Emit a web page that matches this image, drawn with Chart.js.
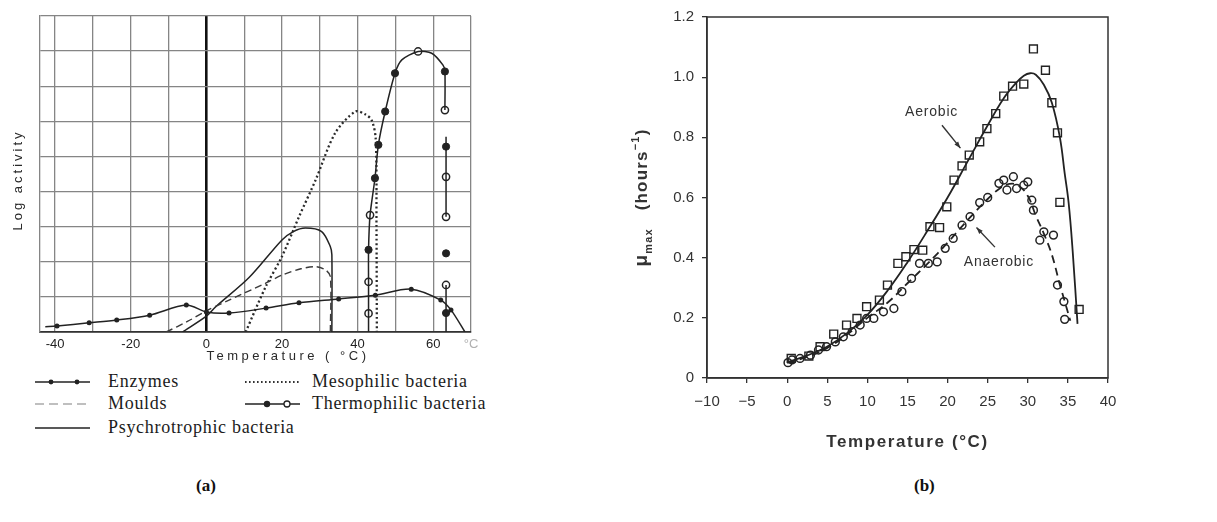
<!DOCTYPE html>
<html>
<head>
<meta charset="utf-8">
<script src="https://cdn.jsdelivr.net/npm/chart.js@4.4.1/dist/chart.umd.min.js"></script>
<style>
  body { margin: 0; background: #fff; }
  #wrap { position: relative; width: 1217px; height: 522px; overflow: hidden; }
  canvas { position: absolute; top: 0; }
  .legtxt { position: absolute; font: 18px "Liberation Serif", serif; letter-spacing: 0.7px; color: #1c1c1c; line-height: 20px; white-space: nowrap; }
  .legsvg { position: absolute; }
  .tag { position: absolute; font: bold 17px "Liberation Serif", serif; color: #111; }
</style>
</head>
<body>
<div id="wrap">
  <canvas id="cA" width="600" height="370" style="left:0"></canvas>
  <canvas id="cB" width="617" height="470" style="left:600px"></canvas>
  <div id="legA"></div>
  <div class="tag" style="left:196px;top:476px">(a)</div>
  <div class="tag" style="left:914px;top:476px">(b)</div>
</div>
<script>
// ---- panel (a): log activity vs temperature ----
const xTicksA = [-40, -30, -20, -10, 0, 10, 20, 30, 40, 50, 60, 70];
const yTicksA = [0, 1, 2, 3, 4, 5, 6, 7, 8, 9];

const enzX = [-42.6, -39.5, -31, -23.7, -15, -5.3, 0, 6, 15.8, 24.5, 35, 44.7, 54.2, 62, 64.7, 68.4];
const enzY = [0.15, 0.17, 0.26, 0.34, 0.48, 0.77, 0.57, 0.54, 0.68, 0.83, 0.94, 1.05, 1.22, 0.91, 0.63, 0];

const mouldX = [-10.6, -5, 0, 6, 15.7, 20, 25, 28.9, 31.5, 32.8, 32.8];
const mouldY = [0, 0.3, 0.6, 0.91, 1.39, 1.62, 1.8, 1.86, 1.77, 1.58, 0];

const psyX = [-6.3, 0, 2.5, 11.3, 20, 23, 26.2, 30.5, 32.8, 33.2, 33.2];
const psyY = [0, 0.45, 0.72, 1.55, 2.62, 2.86, 2.96, 2.86, 2.43, 2.2, 0];

const mesoX = [10.4, 15.7, 20, 24.5, 28.9, 34.1, 39.4, 42, 43.7, 44.8, 45, 45.1];
const mesoY = [0, 1.29, 2.15, 3.28, 4.33, 5.67, 6.28, 6.2, 6.04, 5.5, 3, 0];

const thermoX = [42.9, 42.9, 42.9, 42.9, 43.3, 44.6, 45.5, 47.3, 49.9, 51.7, 56, 59.6, 62.6, 63.1, 63.1, 63.2, 63.4, 63.4, 63.4, 63.4, 63.4, 63.4, 63.4, 63.4, 63.4, 63.4];
const thermoY = [0, 0.53, 1.43, 2.34, 3.33, 4.38, 5.33, 6.28, 7.37, 7.75, 7.99, 7.94, 7.6, 7.42, 6.32, null, 5.56, 5.28, 4.42, 3.28, null, 2.24, null, 1.34, 0.54, 0];
const thermoFullX = [42.9, 44.6, 45.5, 47.3, 49.9, 63.1, 63.4, 63.4, 63.4];
const thermoFullY = [2.34, 4.38, 5.33, 6.28, 7.37, 7.42, 5.28, 2.24, 0.54];
const thermoOpenX = [42.9, 42.9, 43.3, 56, 63.1, 63.4, 63.4, 63.4];
const thermoOpenY = [0.53, 1.43, 3.33, 7.99, 6.32, 4.42, 3.28, 1.34];

// ---- panel (b): mu max vs temperature ----
const xTicksB = [-10, -5, 0, 5, 10, 15, 20, 25, 30, 35, 40];
const yTicksB = [0, 0.2, 0.4, 0.6, 0.8, 1.0, 1.2];

const aeroX = [0.5, 2.7, 4.1, 5.8, 7.4, 8.7, 9.9, 11.5, 12.5, 13.8, 14.8, 15.8, 16.9, 17.8, 19.0, 19.9, 20.8, 21.8, 22.7, 24.0, 24.9, 26.0, 27.0, 28.1, 29.5, 30.7, 32.2, 33.0, 33.7, 34.0, 36.4];
const aeroY = [0.065, 0.073, 0.104, 0.146, 0.176, 0.198, 0.237, 0.259, 0.309, 0.381, 0.403, 0.427, 0.425, 0.503, 0.50, 0.569, 0.658, 0.705, 0.741, 0.785, 0.829, 0.879, 0.937, 0.97, 0.977, 1.094, 1.023, 0.915, 0.815, 0.584, 0.228];

const anaeroX = [0.1, 0.6, 1.6, 2.9, 3.9, 4.9, 6.0, 7.0, 8.1, 9.1, 9.9, 10.8, 12.0, 13.3, 14.3, 15.5, 16.5, 17.6, 18.7, 19.7, 20.7, 21.8, 22.8, 24.0, 25.0, 26.4, 27.0, 27.4, 28.2, 28.6, 29.5, 30.0, 30.5, 30.7, 31.5, 32.0, 33.2, 33.7, 34.5, 34.6];
const anaeroY = [0.051, 0.06, 0.065, 0.076, 0.093, 0.104, 0.12, 0.137, 0.154, 0.176, 0.198, 0.198, 0.22, 0.231, 0.287, 0.331, 0.381, 0.381, 0.386, 0.431, 0.464, 0.508, 0.536, 0.583, 0.60, 0.647, 0.658, 0.625, 0.669, 0.63, 0.641, 0.652, 0.591, 0.558, 0.458, 0.486, 0.475, 0.309, 0.254, 0.195];

const aeroFitX = [0, 2.5, 5, 7.5, 10, 12.5, 15, 17.5, 20, 22.5, 25, 27, 28.5, 29.5, 30.3, 31, 32, 33, 34, 34.6, 35.1, 35.6, 36.2];
const aeroFitY = [0.052, 0.075, 0.105, 0.15, 0.21, 0.29, 0.385, 0.49, 0.6, 0.72, 0.84, 0.93, 0.98, 1.005, 1.013, 1.008, 0.975, 0.915, 0.8, 0.68, 0.58, 0.42, 0.18];

const anaeroFitX = [0, 2.5, 5, 7.5, 10, 12.5, 15, 17.5, 20, 22.5, 25, 26.5, 27.7, 28.8, 30, 31, 32, 33, 34, 34.6, 35.3];
const anaeroFitY = [0.05, 0.07, 0.1, 0.145, 0.2, 0.25, 0.315, 0.38, 0.45, 0.525, 0.595, 0.63, 0.645, 0.64, 0.605, 0.54, 0.48, 0.41, 0.31, 0.255, 0.19];

const pts = (xs, ys) => xs.map((x, i) => ({ x, y: ys[i] }));
const ink = '#222';
const gridGray = '#858585';

// free texts of panel (a), letter spaced like the scan
const textA = {
    id: 'textA',
    afterDraw(chart) {
        const { ctx, chartArea: a } = chart;
        ctx.save();
        ctx.fillStyle = '#2a2a2a';
        ctx.textAlign = 'center';
        ctx.textBaseline = 'middle';
        ctx.font = '13px "Liberation Sans", sans-serif';
        ctx.letterSpacing = '3.5px';
        ctx.fillText('Temperature ( °C)', 288, 356);
        ctx.translate(18, (a.top + a.bottom) / 2 + 6);
        ctx.rotate(-Math.PI / 2);
        ctx.letterSpacing = '3px';
        ctx.fillText('Log activity', 0, 0);
        ctx.restore();
    }
};

new Chart(document.getElementById('cA'), {
    type: 'line',
    data: {
        datasets: [
            { data: pts(enzX, enzY), borderColor: ink, borderWidth: 1.5, tension: 0.3,
              pointRadius: c => (c.dataIndex === 0 || c.dataIndex === enzX.length - 1) ? 0 : 2.5,
              pointBackgroundColor: ink, pointBorderWidth: 0 },
            { data: pts(mouldX, mouldY), borderColor: '#3a3a3a', borderWidth: 1.4, borderDash: [7, 4], tension: 0.3, pointRadius: 0 },
            { data: pts(psyX, psyY), borderColor: ink, borderWidth: 1.5, tension: 0.3, pointRadius: 0 },
            { data: pts(mesoX, mesoY), borderColor: '#2a2a2a', borderWidth: 2.3, borderDash: [2, 2.6], tension: 0.3, pointRadius: 0 },
            { data: pts(thermoX, thermoY), borderColor: ink, borderWidth: 1.5, tension: 0.25, pointRadius: 0, spanGaps: false },
            { data: pts(thermoFullX, thermoFullY), showLine: false, pointRadius: 3.6,
              pointBackgroundColor: ink, pointBorderColor: ink, pointBorderWidth: 1 },
            { data: pts(thermoOpenX, thermoOpenY), showLine: false, pointRadius: 3.6,
              pointBackgroundColor: '#fff', pointBorderColor: ink, pointBorderWidth: 1.5 },
        ]
    },
    options: {
        responsive: false,
        animation: false,
        layout: { padding: { left: 0, top: 16, right: 129, bottom: 0 } },
        plugins: { legend: { display: false }, tooltip: { enabled: false } },
        scales: {
            x: {
                type: 'linear', min: -44, max: 70,
                afterBuildTicks(s) { s.ticks = xTicksA.map(v => ({ value: v })); },
                afterFit(s) { s.height = 38; },
                grid: {
                    drawTicks: false,
                    color: c => (c.tick && c.tick.value === 0) ? '#111' : gridGray,
                    lineWidth: c => (c.tick && c.tick.value === 0) ? 2.6 : 1.3,
                },
                border: { color: '#333', width: 1.7 },
                ticks: {
                    padding: 5, maxRotation: 0, autoSkip: false,
                    font: { family: 'Liberation Sans', size: 13 },
                    color: c => c.tick.value === 70 ? '#b0b0b0' : '#222',
                    callback: v => v === 70 ? '°C' : (v % 20 === 0 ? String(v) : ''),
                },
            },
            y: {
                type: 'linear', min: 0, max: 9,
                afterBuildTicks(s) { s.ticks = yTicksA.map(v => ({ value: v })); },
                afterFit(s) { s.width = 40; },
                grid: { drawTicks: false, color: gridGray, lineWidth: 1.3 },
                border: { color: gridGray, width: 1.3 },
                ticks: { display: false },
            },
        },
    },
    plugins: [textA],
});

// legend of panel (a) as html
const legItems = [
    { label: 'Enzymes',                 x: 35,  tx: 108, y: 382, kind: 'enz' },
    { label: 'Moulds',                  x: 35,  tx: 108, y: 404, kind: 'mould' },
    { label: 'Psychrotrophic bacteria', x: 35,  tx: 108, y: 428, kind: 'psy' },
    { label: 'Mesophilic bacteria',     x: 245, tx: 312, y: 382, kind: 'meso' },
    { label: 'Thermophilic bacteria',   x: 245, tx: 312, y: 404, kind: 'thermo' },
];
const sample = {
    enz:    '<line x1="0" y1="6" x2="55" y2="6" stroke="#222" stroke-width="1.6"/><circle cx="16" cy="6" r="2.4" fill="#222"/><circle cx="42" cy="6" r="2.4" fill="#222"/>',
    mould:  '<line x1="0" y1="6" x2="55" y2="6" stroke="#aaa" stroke-width="1.5" stroke-dasharray="9 5"/>',
    psy:    '<line x1="0" y1="6" x2="55" y2="6" stroke="#222" stroke-width="1.6"/>',
    meso:   '<line x1="0" y1="6" x2="55" y2="6" stroke="#333" stroke-width="2" stroke-dasharray="1.6 2.4"/>',
    thermo: '<line x1="0" y1="6" x2="55" y2="6" stroke="#222" stroke-width="1.6"/><circle cx="22" cy="6" r="3.2" fill="#222"/><circle cx="42" cy="6" r="3" fill="#fff" stroke="#222" stroke-width="1.3"/>',
};
const legA = document.getElementById('legA');
legItems.forEach(it => {
    legA.insertAdjacentHTML('beforeend',
        `<svg class="legsvg" width="56" height="12" style="left:${it.x}px;top:${it.y - 6}px">${sample[it.kind]}</svg>` +
        `<div class="legtxt" style="left:${it.tx}px;top:${it.y - 11}px">${it.label}</div>`);
});

// ---- panel (b) ----
const notesB = [
    { text: 'Aerobic',   at: [18, 0.885],  from: [19.3, 0.84],  to: [21.6, 0.764] },
    { text: 'Anaerobic', at: [26.4, 0.385], from: [25.9, 0.435], to: [23.6, 0.50] },
];

const annotB = {
    id: 'annotB',
    afterDraw(chart) {
        const { ctx, chartArea: a, scales: { x, y } } = chart;
        ctx.save();
        // frame
        ctx.strokeStyle = '#333';
        ctx.lineWidth = 1.5;
        ctx.strokeRect(a.left, a.top, a.right - a.left, a.bottom - a.top);
        // notes with arrows
        ctx.fillStyle = '#333';
        ctx.font = '14px "Liberation Sans", sans-serif';
        ctx.letterSpacing = '0.8px';
        ctx.textAlign = 'center';
        ctx.textBaseline = 'middle';
        notesB.forEach(n => {
            ctx.fillText(n.text, x.getPixelForValue(n.at[0]), y.getPixelForValue(n.at[1]));
            const x0 = x.getPixelForValue(n.from[0]), y0 = y.getPixelForValue(n.from[1]);
            const x1 = x.getPixelForValue(n.to[0]),   y1 = y.getPixelForValue(n.to[1]);
            const ang = Math.atan2(y1 - y0, x1 - x0);
            ctx.lineWidth = 1.4;
            ctx.beginPath(); ctx.moveTo(x0, y0); ctx.lineTo(x1, y1); ctx.stroke();
            ctx.beginPath();
            ctx.moveTo(x1, y1);
            ctx.lineTo(x1 - 7 * Math.cos(ang - 0.35), y1 - 7 * Math.sin(ang - 0.35));
            ctx.lineTo(x1 - 7 * Math.cos(ang + 0.35), y1 - 7 * Math.sin(ang + 0.35));
            ctx.closePath(); ctx.fill();
        });
        // x title, letter spaced
        ctx.font = 'bold 17px "Liberation Sans", sans-serif';
        ctx.letterSpacing = '1.6px';
        ctx.fillText('Temperature (°C)', (a.left + a.right) / 2, 442);
        // y title with sub/superscript
        const parts = [
            { t: 'μ', size: 19, dy: 0 },
            { t: 'max', size: 11, dy: 5 },
            { t: '   (hours', size: 17, dy: 0 },
            { t: '−1', size: 11, dy: -8 },
            { t: ')', size: 17, dy: 0 },
        ];
        ctx.textAlign = 'left';
        ctx.textBaseline = 'alphabetic';
        ctx.letterSpacing = '1.2px';
        const fontOf = p => `bold ${p.size}px "Liberation Sans", "DejaVu Sans", sans-serif`;
        let total = 0;
        parts.forEach(p => { ctx.font = fontOf(p); p.w = ctx.measureText(p.t).width; total += p.w; });
        ctx.translate(47, (a.top + a.bottom) / 2);
        ctx.rotate(-Math.PI / 2);
        let cx = -total / 2;
        parts.forEach(p => { ctx.font = fontOf(p); ctx.fillText(p.t, cx, p.dy); cx += p.w; });
        ctx.restore();
    }
};

new Chart(document.getElementById('cB'), {
    type: 'line',
    data: {
        datasets: [
            { data: pts(aeroFitX, aeroFitY), borderColor: ink, borderWidth: 1.8, tension: 0.4, pointRadius: 0 },
            { data: pts(anaeroFitX, anaeroFitY), borderColor: ink, borderWidth: 1.8, borderDash: [8, 5], tension: 0.4, pointRadius: 0 },
            { data: pts(aeroX, aeroY), showLine: false, pointStyle: 'rect', pointRadius: 5.6,
              pointBackgroundColor: 'rgba(0,0,0,0)', pointBorderColor: ink, pointBorderWidth: 1.4 },
            { data: pts(anaeroX, anaeroY), showLine: false, pointStyle: 'circle', pointRadius: 3.9,
              pointBackgroundColor: 'rgba(0,0,0,0)', pointBorderColor: ink, pointBorderWidth: 1.5 },
        ]
    },
    options: {
        responsive: false,
        animation: false,
        layout: { padding: { left: 0, top: 17, right: 109, bottom: 0 } },
        plugins: { legend: { display: false }, tooltip: { enabled: false } },
        scales: {
            x: {
                type: 'linear', min: -10, max: 40,
                afterBuildTicks(s) { s.ticks = xTicksB.map(v => ({ value: v })); },
                afterFit(s) { s.height = 92; },
                grid: { drawOnChartArea: false, drawTicks: true, tickLength: 5, color: '#333', lineWidth: 1.3 },
                border: { color: '#333', width: 1.5 },
                ticks: {
                    padding: 10, maxRotation: 0, autoSkip: false,
                    font: { family: 'Liberation Sans', size: 15 }, color: '#333',
                    callback: v => v < 0 ? '−' + Math.abs(v) : String(v),
                },
            },
            y: {
                type: 'linear', min: 0, max: 1.2,
                afterBuildTicks(s) { s.ticks = yTicksB.map(v => ({ value: v })); },
                afterFit(s) { s.width = 107; },
                grid: { drawOnChartArea: false, drawTicks: true, tickLength: 5, color: '#333', lineWidth: 1.3 },
                border: { color: '#333', width: 1.5 },
                ticks: {
                    padding: 8,
                    font: { family: 'Liberation Sans', size: 15 }, color: '#333',
                    callback: v => v === 0 ? '0' : v.toFixed(1),
                },
            },
        },
    },
    plugins: [annotB],
});
</script>
</body>
</html>
